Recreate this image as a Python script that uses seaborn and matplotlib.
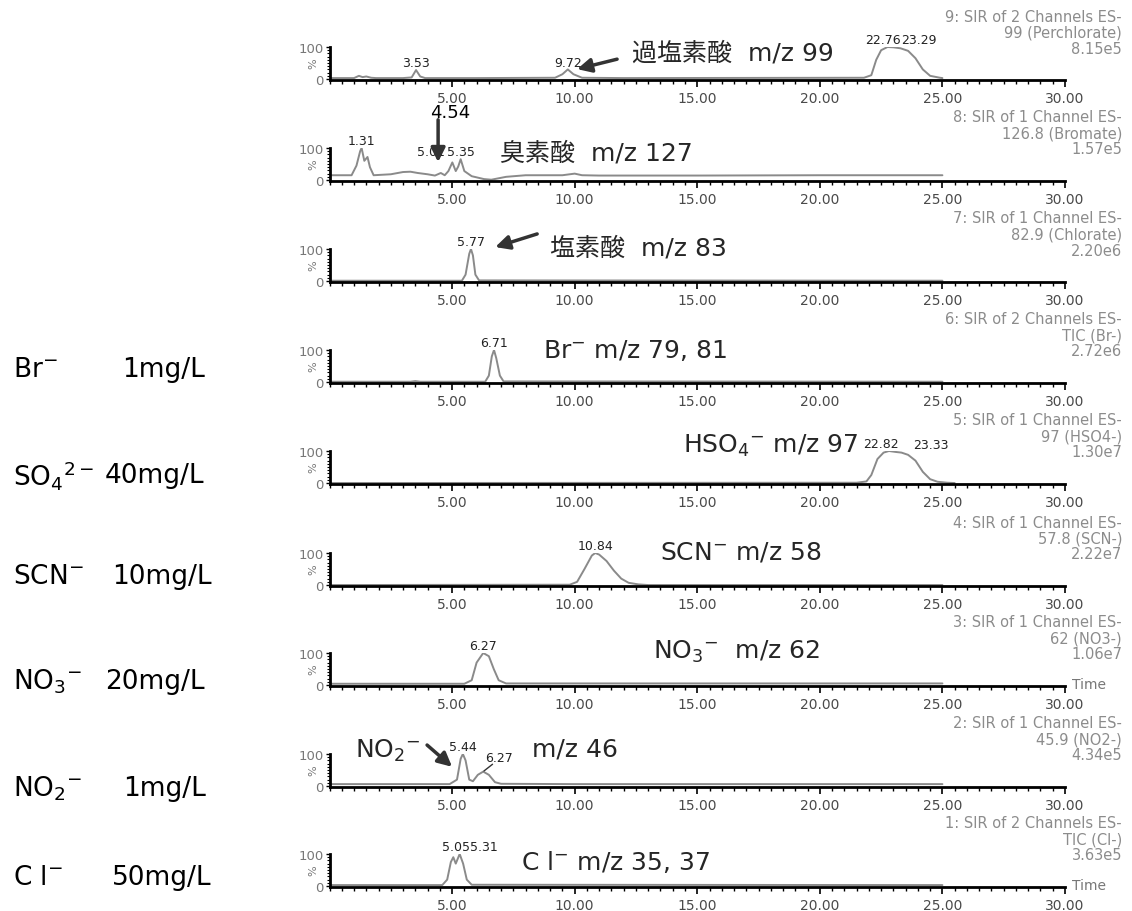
#!/usr/bin/env python3
import matplotlib
matplotlib.use("Agg")
import matplotlib.pyplot as plt
import seaborn as sns
import pandas as pd
from matplotlib.ticker import MultipleLocator

# retention time (min) and relative intensity (%)
perchlorate_t = [0.0, 1.0, 1.2, 1.35, 1.5, 1.7, 1.9, 3.0, 3.35, 3.53, 3.7, 3.9, 6.0, 9.2, 9.5, 9.72,
                 9.95, 10.3, 12.0, 21.8, 22.1, 22.3, 22.5, 22.76, 23.0, 23.29, 23.6, 23.9, 24.2, 24.5, 24.9, 25.0]
perchlorate_pct = [3, 3, 10, 6, 8, 4, 3, 3, 5, 28, 8, 3, 3, 4, 15, 30, 15, 4, 3, 4, 12, 60, 90, 100, 99,
                   96, 88, 65, 30, 10, 4, 3]

bromate_t = [0.0, 0.9, 1.1, 1.25, 1.31, 1.42, 1.55, 1.65, 1.8, 2.5, 3.0, 3.3, 3.6, 4.0, 4.3, 4.54, 4.7,
             4.85, 5.01, 5.15, 5.25, 5.35, 5.5, 5.8, 6.3, 6.6, 7.2, 8.0, 9.5, 10.0, 10.3, 11.0, 15.0, 20.0, 25.0]
bromate_pct = [15, 15, 45, 90, 100, 60, 72, 40, 15, 18, 25, 26, 22, 18, 14, 22, 15, 28, 55, 28, 42, 65,
               28, 12, 3, 1, 10, 15, 15, 20, 15, 14, 14, 15, 15]

chlorate_t = [0.0, 5.4, 5.55, 5.7, 5.77, 5.85, 5.95, 6.1, 25.0]
chlorate_pct = [1, 1, 20, 85, 100, 80, 20, 2, 1]

bromide_t = [0.0, 3.3, 3.5, 3.7, 6.35, 6.5, 6.62, 6.71, 6.8, 6.95, 7.1, 25.0]
bromide_pct = [1, 1, 3, 1, 1, 20, 80, 100, 75, 20, 2, 1]

sulfate_t = [0.0, 21.5, 21.9, 22.1, 22.35, 22.6, 22.82, 23.1, 23.33, 23.6, 23.9, 24.2, 24.5, 24.8, 25.2, 25.5]
sulfate_pct = [0, 1, 5, 25, 75, 95, 100, 97, 95, 88, 70, 35, 12, 4, 1, 0]

thiocyanate_t = [0.0, 9.8, 10.1, 10.4, 10.7, 10.84, 11.0, 11.3, 11.6, 11.9, 12.2, 12.6, 13.0, 25.0]
thiocyanate_pct = [0, 1, 10, 50, 92, 100, 95, 75, 45, 20, 7, 2, 0, 0]

nitrate_t = [0.0, 5.5, 5.8, 6.0, 6.27, 6.5, 6.7, 6.9, 7.2, 25.0]
nitrate_pct = [4, 4, 15, 70, 100, 90, 50, 15, 5, 5]

nitrite_t = [0.0, 4.9, 5.2, 5.35, 5.44, 5.55, 5.7, 5.85, 6.05, 6.27, 6.5, 6.75, 7.0, 10.0, 25.0]
nitrite_pct = [6, 6, 20, 85, 100, 80, 20, 15, 35, 45, 35, 12, 7, 6, 6]

chloride_t = [0.0, 4.6, 4.8, 4.95, 5.05, 5.15, 5.31, 5.45, 5.6, 5.8, 25.0]
chloride_pct = [3, 3, 20, 75, 90, 70, 100, 70, 20, 4, 3]

headers = [
    ["9: SIR of 2 Channels ES-", "99 (Perchlorate)", "8.15e5"],
    ["8: SIR of 1 Channel ES-", "126.8 (Bromate)", "1.57e5"],
    ["7: SIR of 1 Channel ES-", "82.9 (Chlorate)", "2.20e6"],
    ["6: SIR of 2 Channels ES-", "TIC (Br-)", "2.72e6"],
    ["5: SIR of 1 Channel ES-", "97 (HSO4-)", "1.30e7"],
    ["4: SIR of 1 Channel ES-", "57.8 (SCN-)", "2.22e7"],
    ["3: SIR of 1 Channel ES-", "62 (NO3-)", "1.06e7"],
    ["2: SIR of 1 Channel ES-", "45.9 (NO2-)", "4.34e5"],
    ["1: SIR of 2 Channels ES-", "TIC (Cl-)", "3.63e5"],
]

species = ["Br$^{-}$", "SO$_4$$^{2-}$", "SCN$^{-}$", "NO$_3$$^{-}$", "NO$_2$$^{-}$", "C l$^{-}$"]
concentrations = ["1mg/L", "40mg/L", "10mg/L", "20mg/L", "1mg/L", "50mg/L"]

traces = [(perchlorate_t, perchlorate_pct), (bromate_t, bromate_pct), (chlorate_t, chlorate_pct),
          (bromide_t, bromide_pct), (sulfate_t, sulfate_pct), (thiocyanate_t, thiocyanate_pct),
          (nitrate_t, nitrate_pct), (nitrite_t, nitrite_pct), (chloride_t, chloride_pct)]

sns.set_theme(style="ticks")
plt.rcParams["font.family"] = ["DejaVu Sans", "Noto Sans CJK JP"]

W, H = 1132, 912
fig = plt.figure(figsize=(W / 100, H / 100), dpi=100)

X0, X30 = 329.5, 1065
baselines = [80, 181, 282, 383, 484, 586, 686, 787, 887]
GREY = "#8a8a8a"

axes = []
for (t, pct), yb, head in zip(traces, baselines, headers):
    ax = fig.add_axes([X0 / W, 1 - (yb + 1) / H, (X30 - X0) / W, 33 / H])
    df = pd.DataFrame({"t": t, "pct": pct})
    sns.lineplot(data=df, x="t", y="pct", ax=ax, color=GREY, lw=1.4, estimator=None, sort=False)
    ax.set_xlim(0, 30)
    ax.set_ylim(-3, 100)
    ax.set_xlabel("")
    ax.set_ylabel("")
    ax.patch.set_alpha(0)
    for s in ["top", "right"]:
        ax.spines[s].set_visible(False)
    for s in ["left", "bottom"]:
        ax.spines[s].set_linewidth(2)
        ax.spines[s].set_color("black")
    ax.set_xticks([5, 10, 15, 20, 25, 30])
    ax.set_xticklabels(["5.00", "10.00", "15.00", "20.00", "25.00", "30.00"])
    ax.xaxis.set_minor_locator(MultipleLocator(0.5))
    ax.set_yticks([0, 100])
    ax.set_yticklabels(["0", "100"])
    ax.yaxis.set_minor_locator(MultipleLocator(10))
    ax.tick_params(axis="x", which="major", direction="out", length=5, width=1.2,
                   labelsize=10, labelcolor="#4a4a4a", pad=3, color="black")
    ax.tick_params(axis="x", which="minor", direction="out", length=3, width=1, color="black")
    ax.tick_params(axis="y", which="major", direction="out", length=3, width=1,
                   labelsize=9.5, labelcolor="#777777", pad=1, color="black")
    ax.tick_params(axis="y", which="minor", direction="out", length=2, width=0.8, color="black")
    ax.text(-0.45, 50, "%", rotation=90, ha="right", va="center", fontsize=8, color="#777777")
    for k, line in enumerate(head):
        fig.text(1122 / W, 1 - (yb - 63 + 16 * k) / H, line, ha="right", va="center",
                 fontsize=10.5, color="#8c8c8c")
    axes.append(ax)

BIG = 18
PK = 9
arrow = dict(arrowstyle="-|>,head_length=0.7,head_width=0.35", color="#333333", lw=2.5,
             shrinkA=0, shrinkB=0)


def peak(ax, x, y, s, ha="center"):
    ax.text(x, y, s, ha=ha, va="bottom", fontsize=PK, color="#222222", clip_on=False)


# 9: perchlorate
ax = axes[0]
peak(ax, 3.53, 30, "3.53")
peak(ax, 9.72, 32, "9.72")
peak(ax, 23.3, 102, "22.76", ha="right")
peak(ax, 23.3, 102, "23.29", ha="left")
ax.text(12.35, 84, "過塩素酸  m/z 99", fontsize=BIG, va="center")
ax.annotate("", xy=(10.1, 31), xytext=(11.73, 62), arrowprops=arrow, annotation_clip=False)

# 8: bromate
ax = axes[1]
peak(ax, 1.31, 102, "1.31")
peak(ax, 4.7, 68, "5.01", ha="right")
peak(ax, 4.78, 68, "5.35", ha="left")
ax.text(4.94, 212, "4.54", fontsize=13, ha="center", va="center", color="black")
ax.annotate("", xy=(4.43, 56), xytext=(4.43, 188), arrowprops=arrow, annotation_clip=False)
ax.text(6.96, 87, "臭素酸  m/z 127", fontsize=BIG, va="center")

# 7: chlorate
ax = axes[2]
peak(ax, 5.77, 102, "5.77")
ax.text(9.0, 106, "塩素酸  m/z 83", fontsize=BIG, va="center")
ax.annotate("", xy=(6.76, 106), xytext=(8.47, 147), arrowprops=arrow, annotation_clip=False)

# 6: bromide
ax = axes[3]
peak(ax, 6.71, 102, "6.71")
ax.text(8.71, 103, "Br$^{-}$ m/z 79, 81", fontsize=BIG, va="center")

# 5: sulfate
ax = axes[4]
peak(ax, 23.2, 102, "22.82", ha="right")
peak(ax, 23.8, 100, "23.33", ha="left")
ax.text(14.4, 120, "HSO$_4$$^{-}$ m/z 97", fontsize=BIG, va="center")

# 4: thiocyanate
ax = axes[5]
peak(ax, 10.84, 102, "10.84")
ax.text(13.5, 106, "SCN$^{-}$ m/z 58", fontsize=BIG, va="center")

# 3: nitrate
ax = axes[6]
peak(ax, 6.27, 102, "6.27")
ax.text(13.2, 108, "NO$_3$$^{-}$  m/z 62", fontsize=BIG, va="center")
ax.text(30.3, 2, "Time", fontsize=10, color="#777777", va="center", ha="left", clip_on=False)

# 2: nitrite
ax = axes[7]
peak(ax, 5.44, 102, "5.44")
peak(ax, 6.9, 68, "6.27")
ax.plot([6.65, 6.3], [68, 47], color="#333333", lw=1)
ax.text(1.04, 112, "NO$_2$$^{-}$", fontsize=BIG, va="center")
ax.annotate("", xy=(5.0, 60), xytext=(3.98, 128), arrowprops=arrow, annotation_clip=False)
ax.text(8.27, 118, "m/z 46", fontsize=BIG, va="center")

# 1: chloride
ax = axes[8]
peak(ax, 5.75, 102, "5.05", ha="right")
peak(ax, 5.75, 102, "5.31", ha="left")
ax.text(7.8, 78, "C l$^{-}$ m/z 35, 37", fontsize=BIG, va="center")
ax.text(30.3, 2, "Time", fontsize=10, color="#777777", va="center", ha="left", clip_on=False)

# sample list on the left
label_y = [370, 476, 577, 682, 789, 878]
conc_x = [122, 105, 112, 105, 123, 112]
for sp, conc, y, cx in zip(species, concentrations, label_y, conc_x):
    fig.text(13 / W, 1 - y / H, sp, fontsize=19, va="center", ha="left", color="black")
    fig.text(cx / W, 1 - y / H, conc, fontsize=19, va="center", ha="left", color="black")

fig.savefig("out.png", dpi=100)
